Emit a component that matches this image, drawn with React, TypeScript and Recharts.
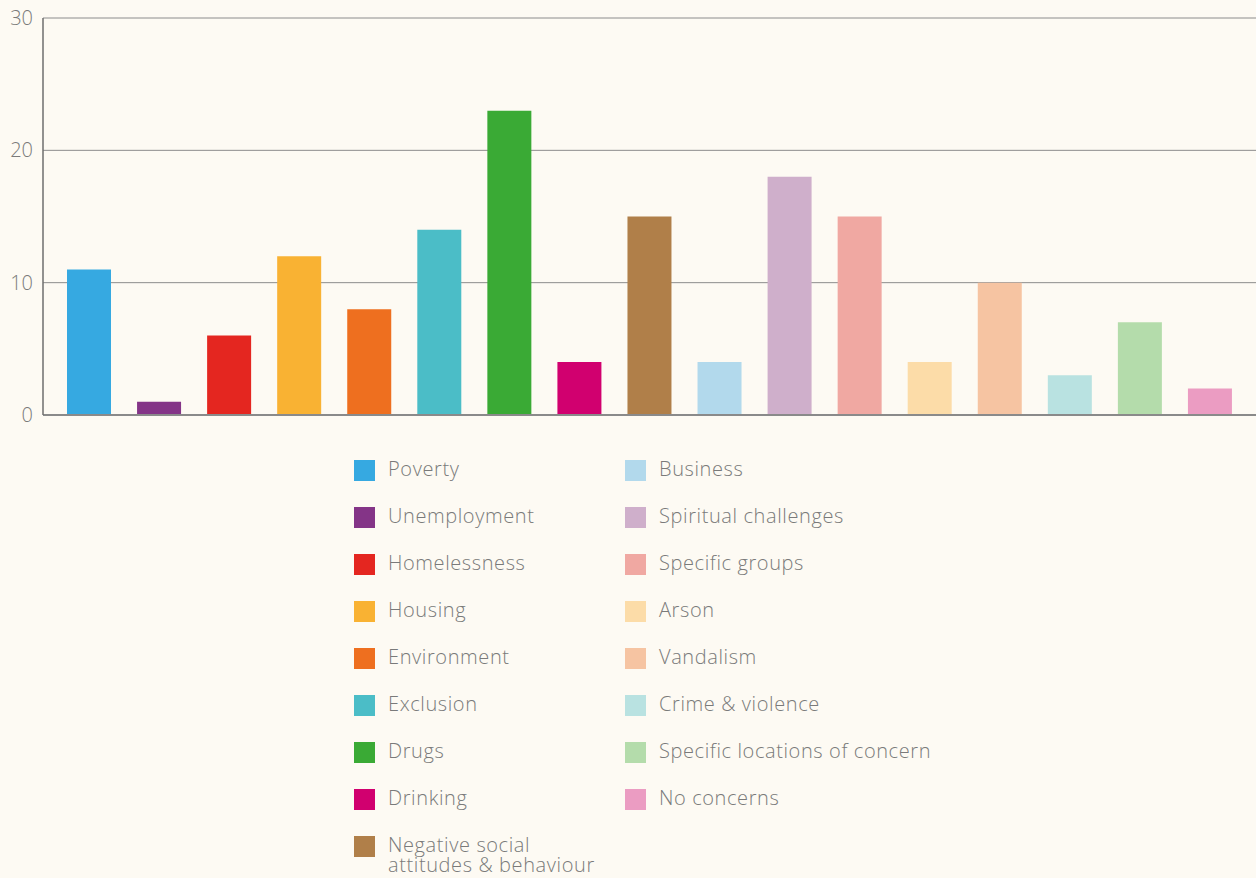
import React from 'react';
import { BarChart, Bar, XAxis, YAxis, CartesianGrid, Cell } from 'recharts';

const categories = [
  'Poverty',
  'Unemployment',
  'Homelessness',
  'Housing',
  'Environment',
  'Exclusion',
  'Drugs',
  'Drinking',
  'Negative social attitudes & behaviour',
  'Business',
  'Spiritual challenges',
  'Specific groups',
  'Arson',
  'Vandalism',
  'Crime & violence',
  'Specific locations of concern',
  'No concerns',
];

const counts = [11, 1, 6, 12, 8, 14, 23, 4, 15, 4, 18, 15, 4, 10, 3, 7, 2];

const yTicks = [0, 10, 20, 30];

const palette = [
  '#36a9e1', '#843487', '#e42620', '#f9b233', '#ee6f1f', '#4bbdc7',
  '#3aaa35', '#d1006f', '#b07f49', '#b2d9ec', '#cfafcb', '#f0a8a2',
  '#fcdca8', '#f6c4a2', '#b9e2e1', '#b4dcab', '#eb9cc2',
];

const bg = '#fdfaf3';
const textColor = '#7a7a7a';
const font = '"Open Sans", sans-serif';

const LegendItem = ({ name, color, textWidth }: { name: string; color: string; textWidth: number }) => (
  <div style={{ display: 'flex', alignItems: 'flex-start', height: 47 }}>
    <div style={{ width: 21, height: 21, background: color, flexShrink: 0 }} />
    <div
      style={{
        marginLeft: 13,
        marginTop: -1,
        width: textWidth,
        fontSize: 20,
        lineHeight: '20px',
        fontWeight: 300,
        letterSpacing: 0.6,
        color: textColor,
      }}
    >
      {name}
    </div>
  </div>
);

export default function App() {
  const data = categories.map((name, i) => ({ name, value: counts[i] }));
  const half = 9;

  return (
    <div
      style={{
        position: 'absolute',
        left: 0,
        top: 0,
        width: 1256,
        height: 878,
        background: bg,
        fontFamily: font,
        overflow: 'hidden',
      }}
    >
      <BarChart
        width={1256}
        height={435}
        data={data}
        margin={{ top: 18, right: 0, bottom: 0, left: 0 }}
        barCategoryGap={0}
      >
        <CartesianGrid horizontal vertical={false} stroke="#8c8c8c" strokeWidth={1} />
        <XAxis
          dataKey="name"
          tick={false}
          tickLine={false}
          height={20}
          padding={{ left: 11, right: 11 }}
          axisLine={{ stroke: '#8a8a8a', strokeWidth: 2 }}
        />
        <YAxis
          width={43}
          domain={[0, 30]}
          ticks={yTicks}
          interval={0}
          tickLine={false}
          tickMargin={4}
          axisLine={{ stroke: '#6e6e6e', strokeWidth: 1.5 }}
          tick={{ fill: textColor, fontSize: 20, fontWeight: 300, fontFamily: font }}
        />
        <Bar dataKey="value" barSize={44} isAnimationActive={false}>
          {data.map((d, i) => (
            <Cell key={d.name} fill={palette[i]} />
          ))}
        </Bar>
      </BarChart>

      <div style={{ position: 'absolute', left: 354, top: 460, display: 'flex' }}>
        <div style={{ width: 271 }}>
          {categories.slice(0, half).map((c, i) => (
            <LegendItem key={c} name={c} color={palette[i]} textWidth={215} />
          ))}
        </div>
        <div style={{ width: 330 }}>
          {categories.slice(half).map((c, i) => (
            <LegendItem key={c} name={c} color={palette[i + half]} textWidth={300} />
          ))}
        </div>
      </div>
    </div>
  );
}
